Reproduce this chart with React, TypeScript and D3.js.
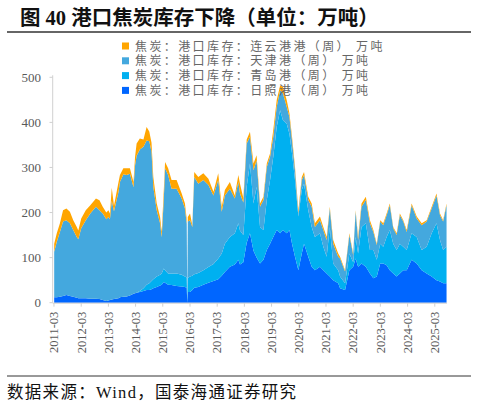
import * as d3 from "d3";

// weekly samples (万吨)
const dates = [
  "2011-03-04","2011-04-08","2011-05-20","2011-07-01","2011-08-15","2011-10-01","2011-11-15","2012-01-01","2012-01-22","2012-03-01",
  "2012-05-01","2012-07-01","2012-09-15","2012-11-01","2012-12-15","2013-02-01","2013-03-01","2013-03-22","2013-04-15","2013-05-15",
  "2013-07-15","2013-08-03","2013-09-18","2013-11-01","2013-12-15","2014-02-01","2014-02-22","2014-03-15","2014-04-27","2014-06-15",
  "2014-07-27","2014-09-01","2014-10-01","2014-10-25","2014-12-10","2015-01-24","2015-02-15","2015-03-15","2015-04-01","2015-05-12",
  "2015-06-27","2015-09-03","2015-11-10","2015-12-24","2016-01-17","2016-01-24","2016-01-31","2016-03-01","2016-04-01","2016-04-27",
  "2016-06-20","2016-08-27","2016-11-03","2017-01-10","2017-03-15","2017-05-01","2017-06-12","2017-08-18","2017-10-24","2017-12-10",
  "2018-01-01","2018-02-15","2018-04-01","2018-05-15","2018-07-01","2018-08-12","2018-09-27","2018-11-12","2018-12-27","2019-02-09",
  "2019-03-24","2019-05-09","2019-06-24","2019-08-01","2019-09-21","2019-10-27","2019-12-01","2020-01-10","2020-02-24","2020-04-10",
  "2020-05-10","2020-07-06","2020-08-21","2020-10-03","2020-12-10","2021-01-24","2021-03-10","2021-04-21","2021-06-06","2021-08-12",
  "2021-09-06","2021-11-12","2022-01-09","2022-03-01","2022-04-03","2022-05-06","2022-06-21","2022-08-18","2022-10-12","2022-11-27",
  "2023-01-12","2023-02-27","2023-04-09","2023-05-24","2023-07-06","2023-08-21","2023-10-06","2023-11-18","2024-01-03","2024-02-18",
  "2024-04-24","2024-07-01","2024-09-06","2024-11-12","2025-01-18","2025-03-24","2025-05-10","2025-06-21","2025-08-06",
];

const rizhao = [
  12,12,13,15,17,15,13,11,10,10, 10,9,9,8,6,4,5,6,7,8, 10,12,13,14,16,20,21,22,24,26,
  28,28,30,32,35,38,40,46,44,40, 39,37,36,35,33,0,24,24,28,33, 35,40,44,48,52,60,68,80,85,95,
  85,90,133,154,115,100,87,95,117,131, 146,161,154,161,154,161,131,102,72,109, 131,102,80,72,80,72,65,58,50,43,
  32,28,72,80,98,80,87,80,65,54, 58,87,87,83,72,65,58,65,72,72, 95,87,72,65,58,50,47,43,43,
];
const qingdao = [
  0,0,0,0,0,0,0,0,0,0, 0,0,0,0,0,0,0,0,0,0, 0,0,0,0,0,0,0,0,2,6,
  12,15,18,20,23,24,25,30,28,25, 26,28,26,23,23,0,31,34,32,30, 31,32,35,38,46,49,63,66,69,81,
  75,60,124,155,105,157,81,66,111,141, 178,229,273,244,243,214,200,170,119,141, 133,103,88,74,74,52,37,110,37,29,
  26,15,37,10,48,29,81,96,52,63, 37,44,37,63,89,66,59,66,52,45, 59,59,45,59,96,126,92,74,81,
];
const tianjin = [
  101,123,144,165,166,161,148,135,131,155, 173,189,204,197,192,181,185,179,219,195, 236,256,272,269,270,236,284,304,314,314,
  320,315,287,205,147,114,80,154,226,218, 188,188,169,151,119,0,125,125,108,216, 198,200,182,152,174,93,107,107,77,92,
  82,72,96,59,74,59,45,67,73,52, 44,44,44,59,37,37,29,22,7,22, 19,23,45,22,29,37,37,41,44,30,
  40,26,41,16,56,30,45,52,59,40, 33,49,48,48,55,34,33,63,56,40, 62,41,55,56,55,62,55,63,92,
];
const lianyungang = [
  18,19,19,25,26,26,22,22,19,22, 22,18,18,22,15,15,15,13,29,12, 22,15,13,15,12,12,19,27,24,16,
  30,22,20,22,15,14,12,20,14,15, 19,19,11,11,10,0,10,15,4,11, 15,15,14,8,15,11,12,15,7,15,
  22,10,9,11,15,11,7,7,8,7, 15,15,11,15,15,8,8,7,7,7, 7,7,7,8,8,7,7,4,8,7,
  4,3,4,3,3,7,7,7,7,4, 3,3,4,4,4,3,4,4,3,4, 4,4,4,3,4,4,4,3,4,
];

const seriesKeys = ["rizhao", "qingdao", "tianjin", "lianyungang"];
const seriesColors = ["#0066ff", "#00b0f0", "#44a8de", "#ffa500"];
// legend runs top to bottom
const legendLabels = [
  "焦炭：港口库存：连云港港（周） 万吨",
  "焦炭：港口库存：天津港（周） 万吨",
  "焦炭：港口库存：青岛港（周） 万吨",
  "焦炭：港口库存：日照港（周） 万吨",
];
const legendColors = ["#ffa500", "#44a8de", "#00b0f0", "#0066ff"];
const yTicks = [0, 100, 200, 300, 400, 500];
const xTickYears = d3.range(2011, 2026);

const serif = "'Liberation Serif', 'Noto Sans CJK SC', serif";
const cjk = "'Noto Sans CJK SC', sans-serif";

export default function App() {
  const W = 477, H = 406;
  const parse = d3.timeParse("%Y-%m-%d");
  const rows = dates.map((d, i) => ({
    date: parse(d) as Date,
    rizhao: rizhao[i], qingdao: qingdao[i], tianjin: tianjin[i], lianyungang: lianyungang[i],
  }));

  const x = d3.scaleTime()
    .domain([new Date(2011, 1, 12), new Date(2025, 7, 12)])
    .range([52.7, 447]);
  const y = d3.scaleLinear().domain([0, 500]).range([302.7, 77.3]);

  const stacked = d3.stack<any>().keys(seriesKeys)(rows);
  const area = d3.area<any>()
    .x(d => x(d.data.date))
    .y0(d => y(d[0]))
    .y1(d => y(d[1]));

  const xTicks = xTickYears.map(yr => new Date(yr, 2, 1));

  return (
    <svg width={W} height={H} style={{ position: "absolute", left: 0, top: 0, background: "#fff" }}>
      {/* title */}
      <text x={20} y={24.5} fontFamily={serif} fontWeight="bold" fontSize={20.5} fill="#111">
        图 40 港口焦炭库存下降（单位：万吨）
      </text>
      <line x1={7} x2={471} y1={32} y2={32} stroke="#333" strokeWidth={1.3} />

      {/* areas */}
      {stacked.map((s, i) => (
        <path key={s.key} d={area(s) || ""} fill={seriesColors[i]} />
      ))}

      {/* axes */}
      <line x1={52.7} x2={52.7} y1={y(500) - 2} y2={y(0)} stroke="#d0d0d0" />
      <line x1={52.7} x2={447} y1={y(0) + 0.5} y2={y(0) + 0.5} stroke="#d0d0d0" />
      {yTicks.map(t => (
        <g key={t}>
          <line x1={49.5} x2={52.7} y1={y(t)} y2={y(t)} stroke="#d0d0d0" />
          <text x={41} y={y(t) + 4.5} textAnchor="end" fontFamily={serif} fontSize={13} fill="#595959">{t}</text>
        </g>
      ))}
      {xTicks.map(t => {
        const tx = x(t);
        return (
          <g key={+t}>
            <line x1={tx} x2={tx} y1={y(0) + 0.5} y2={y(0) + 4} stroke="#d0d0d0" />
            <text transform={`translate(${tx + 4.3},${y(0) + 9}) rotate(-90)`} textAnchor="end"
              fontFamily={serif} fontSize={12.5} fill="#595959">
              {d3.timeFormat("%Y-%m")(t)}
            </text>
          </g>
        );
      })}

      {/* legend */}
      {legendLabels.map((lab, i) => (
        <g key={lab}>
          <rect x={122} y={42.5 + i * 14.8} width={7} height={7} fill={legendColors[i]} />
          <text x={135} y={50.5 + i * 14.8} fontFamily={cjk} fontSize={12} letterSpacing={2.4} fill="#666">{lab}</text>
        </g>
      ))}

      {/* source */}
      <line x1={7} x2={471} y1={376} y2={376} stroke="#333" strokeWidth={1} />
      <text x={7} y={398} fontFamily={serif} fontSize={16.5} letterSpacing={1.3} fill="#111">数据来源：Wind，国泰海通证券研究</text>
    </svg>
  );
}
